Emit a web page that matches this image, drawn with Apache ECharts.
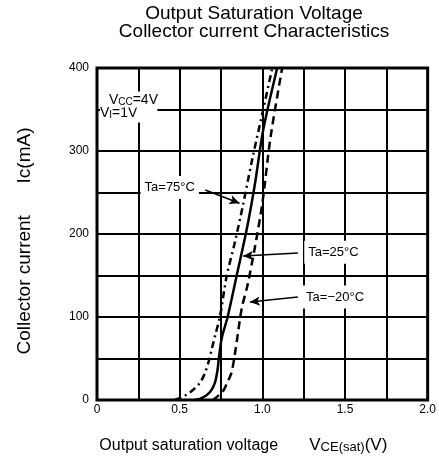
<!DOCTYPE html>
<html>
<head>
<meta charset="utf-8">
<script src="https://cdn.jsdelivr.net/npm/echarts@6/dist/echarts.min.js"></script>
<style>
  html, body { margin: 0; padding: 0; background: #fff; }
  #main { width: 439px; height: 468px; }
</style>
</head>
<body>
<div id="main"></div>
<script>
// curves: [Vce(sat) (V), Ic (mA)]
var ta75 = [[0.47, 0], [0.53, 5], [0.58, 12], [0.62, 20], [0.65, 31], [0.675, 46], [0.695, 62],
  [0.715, 78], [0.743, 100], [0.785, 150], [0.834, 190], [0.88, 232], [0.94, 291], [1.0, 345], [1.06, 400]]
var ta25 = [[0.59, 0], [0.64, 3], [0.685, 10], [0.712, 20], [0.728, 35], [0.737, 50], [0.755, 75],
  [0.79, 100], [0.845, 150], [0.905, 205], [0.955, 260], [1.005, 325], [1.09, 400]]
var taM20 = [[0.70, 0], [0.76, 10], [0.79, 22], [0.815, 34], [0.845, 70], [0.875, 110], [0.91, 138],
  [0.955, 184], [1.0, 237], [1.05, 317], [1.12, 400]]

// tick labels
var xTicks = { 0: '0', 0.5: '0.5', 1: '1.0', 1.5: '1.5', 2: '2.0' }
var yTicks = [0, 100, 200, 300, 400]

// annotation texts and where they sit (data units); VI first so Vcc draws on top
var condLines = [
  { text: 'V{s|I}=1V', at: [0.018, 344], pad: [0, 20, 2, 0] },
  { text: 'V{s|CC}=4V', at: [0.072, 362], pad: [2, 6, 0, 0] }
]
var tempLabels = [
  { text: 'Ta=75°C', at: [0.44, 256], from: [0.655, 253], to: [0.862, 237] },
  { text: 'Ta=25°C', at: [1.43, 178], from: [1.215, 177], to: [0.884, 173.5] },
  { text: 'Ta=−20°C', at: [1.44, 124], from: [1.215, 124], to: [0.925, 118] }
]

var myChart = echarts.init(document.getElementById('main'))

var font = 'Liberation Sans, Arial, sans-serif'

var option = {
  animation: false,
  textStyle: { fontFamily: font, color: '#000' },
  title: {
    text: 'Output Saturation Voltage\nCollector current Characteristics',
    left: 249,
    top: 0,
    textAlign: 'center',
    textStyle: { fontSize: 19, fontWeight: 'normal', lineHeight: 18, color: '#000', fontFamily: font }
  },
  grid: {
    left: 97,
    right: 11,
    top: 68,
    bottom: 68,
    show: true,
    borderColor: '#000',
    borderWidth: 3
  },
  xAxis: {
    type: 'value',
    min: 0,
    max: 2,
    interval: 0.25,
    name: 'Output saturation voltage       {v|V}{s|CE(sat)}{v|(V)}',
    nameLocation: 'middle',
    nameGap: 37,
    nameTextStyle: {
      fontSize: 16,
      color: '#000',
      padding: [0, 38, 0, 0],
      rich: {
        v: { fontSize: 17, color: '#000' },
        s: { fontSize: 13, color: '#000', padding: [4, 0, 0, 0] }
      }
    },
    axisLine: { show: false },
    axisTick: { show: false },
    axisLabel: {
      color: '#000',
      fontSize: 12,
      margin: 4,
      formatter: function (v) { return xTicks[v] !== undefined ? xTicks[v] : '' }
    },
    splitLine: { show: true, lineStyle: { color: '#000', width: 2 } }
  },
  yAxis: {
    type: 'value',
    min: 0,
    max: 400,
    interval: 50,
    name: 'Collector current      Ic(mA)',
    nameLocation: 'middle',
    nameGap: 63,
    nameTextStyle: { fontSize: 19, color: '#000', padding: [0, 14, 0, 0] },
    axisLine: { show: false },
    axisTick: { show: false },
    axisLabel: {
      color: '#000',
      fontSize: 12,
      margin: 8,
      formatter: function (v) { return yTicks.indexOf(v) >= 0 ? String(v) : '' }
    },
    splitLine: { show: true, lineStyle: { color: '#000', width: 2 } }
  },
  series: [
    {
      name: 'Ta=75',
      type: 'line',
      data: ta75,
      showSymbol: false,
      smooth: 0.3,
      lineStyle: { color: '#000', width: 2.5, type: [7, 4, 2, 4] }
    },
    {
      name: 'Ta=25',
      type: 'line',
      data: ta25,
      showSymbol: false,
      smooth: 0.3,
      lineStyle: { color: '#000', width: 2.5, type: 'solid' },
      markLine: {
        silent: true,
        symbol: ['none', 'arrow'],
        symbolSize: [7, 10],
        label: { show: false },
        lineStyle: { color: '#000', width: 1.5, type: 'solid' },
        data: tempLabels.map(function (t) {
          return [{ coord: t.from }, { coord: t.to }]
        })
      },
      markPoint: {
        silent: true,
        symbol: 'rect',
        symbolSize: 1,
        itemStyle: { color: 'rgba(0,0,0,0)' },
        data: tempLabels.map(function (t) {
          return {
            coord: t.at,
            label: {
              show: true,
              position: 'inside',
              formatter: t.text,
              color: '#000',
              fontSize: 13,
              fontFamily: font,
              backgroundColor: '#fff',
              padding: [5, 4, 5, 4]
            }
          }
        }).concat(condLines.map(function (c) {
          return {
            coord: c.at,
            label: {
              show: true,
              position: 'inside',
              formatter: c.text,
              align: 'left',
              verticalAlign: 'middle',
              color: '#000',
              fontSize: 14,
              lineHeight: 14,
              fontFamily: font,
              backgroundColor: '#fff',
              padding: c.pad,
              rich: { s: { fontSize: 10, lineHeight: 14, color: '#000', padding: [3, 0, 0, 0] } }
            }
          }
        }))
      }
    },
    {
      name: 'Ta=-20',
      type: 'line',
      data: taM20,
      showSymbol: false,
      smooth: 0.3,
      lineStyle: { color: '#000', width: 2.5, type: [8, 5] }
    }
  ]
}

myChart.setOption(option)
</script>
</body>
</html>
